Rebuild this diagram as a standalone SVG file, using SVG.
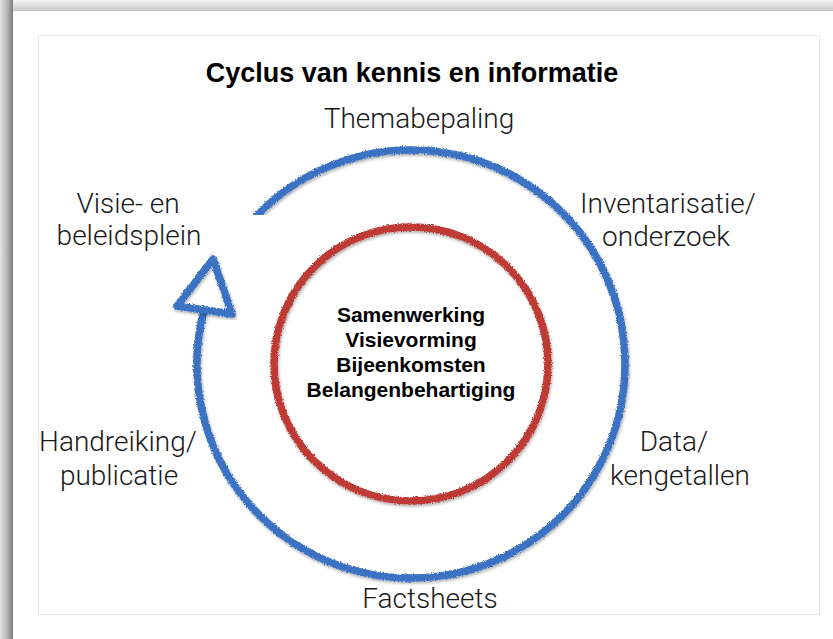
<svg xmlns="http://www.w3.org/2000/svg" width="833" height="639" viewBox="0 0 833 639">
<defs>
<linearGradient id="gTop" x1="0" y1="0" x2="0" y2="1">
<stop offset="0" stop-color="#f4f4f4"/><stop offset="1" stop-color="#c8c8c8"/>
</linearGradient>
<linearGradient id="gLeft" x1="0" y1="0" x2="1" y2="0">
<stop offset="0" stop-color="#e4e4e4"/><stop offset="0.6" stop-color="#b0b0b0"/><stop offset="1" stop-color="#7c7c7c"/>
</linearGradient>
<filter id="chalk" x="-10%" y="-10%" width="120%" height="120%">
<feTurbulence type="fractalNoise" baseFrequency="0.9" numOctaves="2" seed="3" result="n"/>
<feDisplacementMap in="SourceGraphic" in2="n" scale="3.5" xChannelSelector="R" yChannelSelector="G" result="d"/>
<feGaussianBlur in="SourceAlpha" stdDeviation="1.6" result="b"/>
<feOffset in="b" dx="1" dy="1.5" result="o"/>
<feComponentTransfer in="o" result="s"><feFuncA type="linear" slope="0.3"/></feComponentTransfer>
<feMerge><feMergeNode in="s"/><feMergeNode in="d"/></feMerge>
</filter>
<style>
.lbl{font-family:Roboto,"Liberation Sans",sans-serif;font-weight:300;font-size:28px;fill:#1a1a1a;text-anchor:middle}
.ctr{font-family:"Liberation Sans",Arial,sans-serif;font-weight:bold;font-size:21px;fill:#000;text-anchor:middle}
.ttl{font-family:"Liberation Sans",Arial,sans-serif;font-weight:bold;font-size:27px;fill:#000;text-anchor:middle}
.blue{fill:none;stroke:#3a72c3;stroke-width:7.5;stroke-linejoin:round;stroke-linecap:round}
.red{fill:none;stroke:#be3a35;stroke-width:7.5}
</style>
</defs>
<rect x="0" y="0" width="833" height="639" fill="#e6e6e6"/>
<rect x="0" y="0" width="833" height="11" fill="url(#gTop)"/>
<rect x="0" y="0" width="13" height="639" fill="url(#gLeft)"/>
<rect x="13" y="11" width="820" height="628" fill="#ffffff"/>
<rect x="38.5" y="35.5" width="781" height="579" fill="#ffffff" stroke="#e8e8e8" stroke-width="1"/>

<g id="connectors">
<path class="blue" filter="url(#chalk)" d="M248.3,225 A214,214 0 1 1 203.4,312"/>
<rect x="225" y="215" width="60" height="36" fill="#ffffff"/>
<polygon class="blue" filter="url(#chalk)" points="213,259 177,306 232,314"/>
</g>

<g id="inner-circle">
<circle class="red" filter="url(#chalk)" cx="411" cy="364" r="137"/>
<text class="ctr" x="411" y="322">Samenwerking</text>
<text class="ctr" x="411" y="347">Visievorming</text>
<text class="ctr" x="411" y="372">Bijeenkomsten</text>
<text class="ctr" x="411" y="397">Belangenbehartiging</text>
</g>

<g id="title"><text class="ttl" x="412" y="82">Cyclus van kennis en informatie</text></g>
<g id="themabepaling"><text class="lbl" x="419" y="128">Themabepaling</text></g>
<g id="inventarisatie"><text class="lbl" x="668" y="213">Inventarisatie/</text><text class="lbl" x="666" y="246">onderzoek</text></g>
<g id="data"><text class="lbl" x="674" y="451">Data/</text><text class="lbl" x="680" y="485">kengetallen</text></g>
<g id="factsheets"><text class="lbl" x="430" y="608">Factsheets</text></g>
<g id="handreiking"><text class="lbl" x="118" y="451">Handreiking/</text><text class="lbl" x="119" y="485">publicatie</text></g>
<g id="visie"><text class="lbl" x="128" y="213">Visie- en</text><text class="lbl" x="129" y="245">beleidsplein</text></g>
</svg>
